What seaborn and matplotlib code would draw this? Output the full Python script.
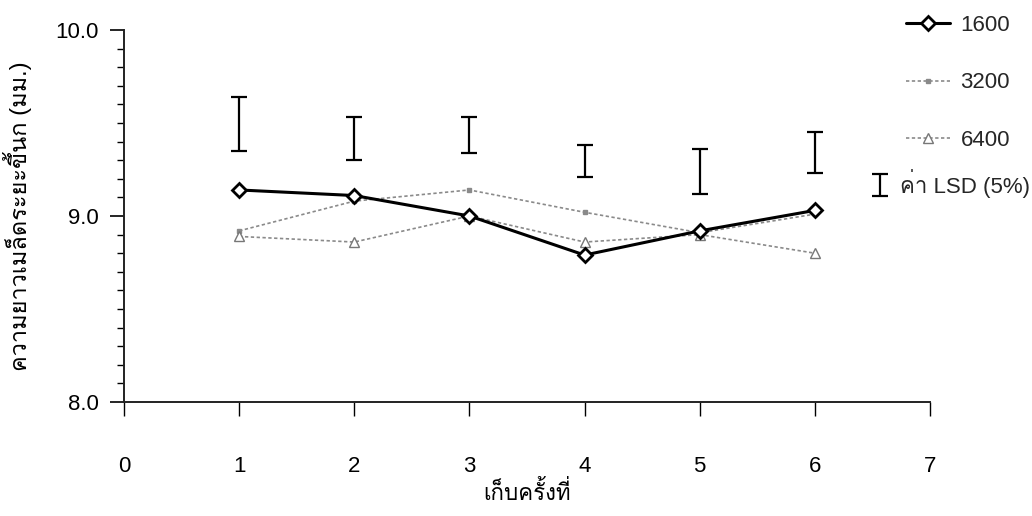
import matplotlib
matplotlib.use("Agg")
import matplotlib.pyplot as plt
import seaborn as sns
import numpy as np
import pandas as pd
from matplotlib import font_manager
from matplotlib.ticker import MultipleLocator, FormatStrFormatter
from matplotlib.lines import Line2D

# ---------------- data ----------------
harvest = [1, 2, 3, 4, 5, 6]
len_1600 = [9.14, 9.11, 9.00, 8.79, 8.92, 9.03]
len_3200 = [8.92, 9.08, 9.14, 9.02, 8.91, 9.01]
len_6400 = [8.89, 8.86, 9.00, 8.86, 8.90, 8.80]
lsd_low = [9.35, 9.30, 9.34, 9.21, 9.12, 9.23]
lsd_high = [9.64, 9.53, 9.53, 9.38, 9.36, 9.45]
series_names = ["1600", "3200", "6400"]
lsd_label = "ค่า LSD (5%)"
x_label = "เก็บครั้งที่"
y_label = "ความยาวเมล็ดระยะขึ้นก (มม.)"
x_ticks = [0, 1, 2, 3, 4, 5, 6, 7]
y_ticks = [8.0, 9.0, 10.0]

# ---------------- fonts ----------------
def find_thai_font():
    try:
        from fontTools.ttLib import TTFont
    except Exception:
        return None
    for f in font_manager.fontManager.ttflist:
        try:
            tt = TTFont(f.fname, fontNumber=0, lazy=True)
            cmap = tt.getBestCmap()
            if cmap and 0x0E04 in cmap and 0x0E48 in cmap:
                return f.name
        except Exception:
            continue
    return None

sns.set_theme(style="white")
thai = find_thai_font()
families = ["Liberation Sans"] + ([thai] if thai else []) + ["DejaVu Sans"]
plt.rcParams["font.family"] = families

fig = plt.figure(figsize=(10.32, 5.16), dpi=100)
ax = fig.add_axes([124 / 1032, 1 - 402 / 516, (930 - 124) / 1032, (402 - 30) / 516])

df = pd.DataFrame({
    "x": harvest * 3,
    "y": len_1600 + len_3200 + len_6400,
    "s": [series_names[0]] * 6 + [series_names[1]] * 6 + [series_names[2]] * 6,
})

styles = {
    "1600": dict(color="black", lw=2.2, ls="-", marker="D", ms=7, mfc="white", mec="black", mew=2.0),
    "3200": dict(color="#8a8a8a", lw=1.2, ls=(0, (2, 1.5)), marker="s", ms=3.5, mfc="#8a8a8a", mec="#8a8a8a", mew=1),
    "6400": dict(color="#8a8a8a", lw=1.2, ls=(0, (2, 1.5)), marker="^", ms=6.5, mfc="white", mec="#777777", mew=1),
}
handles = []
for name in series_names:
    st = styles[name]
    sub = df[df["s"] == name]
    sns.lineplot(data=sub, x="x", y="y", ax=ax, color=st["color"], linewidth=st["lw"],
                 linestyle=st["ls"], marker=st["marker"], markersize=st["ms"],
                 markerfacecolor=st["mfc"], markeredgecolor=st["mec"], markeredgewidth=st["mew"],
                 legend=False, zorder=3 if name == "1600" else 2)
    handles.append(Line2D([], [], color=st["color"], lw=st["lw"], ls=st["ls"], marker=st["marker"],
                          ms=st["ms"], mfc=st["mfc"], mec=st["mec"], mew=st["mew"]))

lo = np.array(lsd_low)
hi = np.array(lsd_high)
eb = ax.errorbar(harvest, (lo + hi) / 2, yerr=(hi - lo) / 2, fmt="none", ecolor="black",
                 elinewidth=1.6, capsize=5.5, capthick=1.6)

ax.set_xlim(0, 7)
ax.set_ylim(8.0, 10.0)
ax.set_xticks(x_ticks)
ax.set_yticks(y_ticks)
ax.yaxis.set_major_formatter(FormatStrFormatter("%.1f"))
ax.yaxis.set_minor_locator(MultipleLocator(0.1))
ax.tick_params(axis="y", which="major", direction="out", length=10, width=1.2, pad=8,
               labelsize=16, colors="black", left=True)
ax.tick_params(axis="y", which="minor", direction="out", length=5, width=1.0, left=True, color="black")
ax.tick_params(axis="x", which="major", direction="out", length=10, width=1.0, pad=29,
               labelsize=16, colors="black", bottom=True)

for sp in ["top", "right"]:
    ax.spines[sp].set_visible(False)
for sp in ["left", "bottom"]:
    ax.spines[sp].set_color("#222222")
    ax.spines[sp].set_linewidth(1.4)

ax.set_xlabel(x_label, fontsize=16, labelpad=3, color="black")
ax.set_ylabel(y_label, fontsize=17, labelpad=17, color="black")
ax.grid(False)

leg1 = fig.legend(handles, series_names, loc="upper left", bbox_to_anchor=(886 / 1032, 1 + 5 / 516),
                  frameon=False, fontsize=16, handlelength=2.0, handletextpad=0.45, labelspacing=1.64)
leg2 = fig.legend([eb], [lsd_label], loc="upper left", bbox_to_anchor=(850 / 1032, 1 - 149 / 516),
                  frameon=False, fontsize=16, handlelength=0.9, handletextpad=0.45)

fig.savefig("out.png", dpi=100)
